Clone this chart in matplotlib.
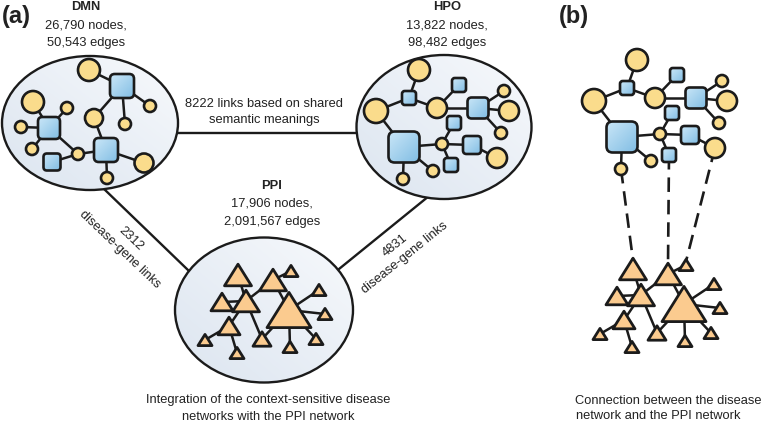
import matplotlib
matplotlib.use("Agg")
import matplotlib.pyplot as plt
import numpy as np
from matplotlib.patches import Ellipse, Circle, FancyBboxPatch, Polygon
from matplotlib.colors import LinearSegmentedColormap

plt.rcParams['font.family'] = ['Liberation Sans', 'DejaVu Sans']

# ---------------- data ----------------
# DMN disease network: kind (c=circle / s=square), x, y, size (radius or side)
DMN_KIND = ['c', 's', 'c', 'c', 'c', 'c', 'c', 's', 'c', 'c', 's', 'c', 's', 'c', 'c']
DMN_X = [89, 122, 150, 125, 94, 33, 67, 49, 21, 32, 52, 78, 106, 144, 107]
DMN_Y = [70, 86, 106, 124, 118, 102, 108, 128, 127, 149, 162, 154, 150, 163, 178]
DMN_SIZE = [11, 24, 6, 6, 9, 11, 6, 22, 6, 6, 17, 6, 24, 9.5, 6]
DMN_EDGES = [(0, 1), (1, 2), (1, 3), (1, 4), (4, 12), (7, 5), (7, 6), (7, 8), (7, 9),
             (7, 11), (10, 11), (11, 12), (12, 13), (12, 14)]

# HPO disease network (same template used in panel b)
HPO_KIND = ['c', 's', 'c', 'c', 's', 's', 'c', 'c', 'c', 's', 's', 'c', 's', 'c', 's', 'c', 'c']
HPO_X = [419, 409, 376, 437, 459, 478, 504, 509, 501, 454, 404, 442, 472, 497, 451, 433, 403]
HPO_Y = [70, 98, 111, 108, 85, 108, 91, 111, 133, 123, 147, 144, 145, 158, 165, 171, 179]
HPO_SIZE = [11, 14, 12, 10, 14, 21, 6, 10, 6, 14, 31, 6, 18, 10, 14, 6, 6]
HPO_EDGES = [(0, 1), (1, 2), (1, 3), (3, 4), (3, 5), (5, 6), (5, 7), (5, 8), (2, 10),
             (10, 11), (11, 9), (11, 12), (12, 13), (11, 14), (10, 15), (10, 16)]

# PPI network: triangles centre x, y, width
PPI_X = [238, 273, 291, 222, 246, 289, 319, 325, 229, 205, 237, 262, 290, 316]
PPI_Y = [275, 280, 271, 302, 301, 310, 290, 314, 326, 340, 353, 339, 347, 339]
PPI_W = [27, 27, 14, 22, 27, 44, 14, 14, 22, 14, 14, 18, 14, 14]
PPI_EDGES = [(0, 4), (4, 1), (1, 5), (1, 2), (3, 4), (4, 8), (4, 11), (8, 9), (8, 10),
             (5, 11), (5, 6), (5, 7), (5, 12), (5, 13)]

# panel (b): links disease node -> protein node
DASHED_LINKS = [(16, 0), (14, 1), (13, 2)]

# network summary labels
NET_NAMES = ['DMN', 'HPO', 'PPI']
NET_NODES = ['26,790 nodes,', '13,822 nodes,', '17,906 nodes,']
NET_EDGES = ['50,543 edges', '98,482 edges', '2,091,567 edges']
LINK_LABELS = ['8222 links based on shared\nsemantic meanings',
               '2312\ndisease-gene links', '4831\ndisease-gene links']
CAPTION_A = ['Integration of the context-sensitive disease', 'networks with the PPI network']
CAPTION_B = ['Connection between the disease', 'network and the PPI network']

# ---------------- layout / style ----------------
W, H = 765, 422
EDGE_C = '#1b1b1b'
CIRCLE_C = '#FADC8C'
TRI_C = '#FBCB8F'
SQ_C1, SQ_C2 = '#CBE7F8', '#82BEE4'
ELL_C1, ELL_C2 = '#F7F9FC', '#DCE5F0'
TEXT_C = '#222222'
FS = 9.3
LW_NODE = 1.9
LW_EDGE = 1.8

fig = plt.figure(figsize=(W / 100, H / 100), dpi=100)
ax = fig.add_axes([0, 0, 1, 1])
ax.set_xlim(0, W)
ax.set_ylim(H, 0)
ax.axis('off')


def grad_fill(patch, x0, x1, y0, y1, c1, c2, z, flip_x=False):
    cmap = LinearSegmentedColormap.from_list('g', [c1, c2])
    tx = np.linspace(0, 1, 40)
    if flip_x:
        tx = 1 - tx
    ty = np.linspace(0, 1, 40)
    g = (ty[:, None] + tx[None, :]) / 2
    im = ax.imshow(g, cmap=cmap, extent=[x0, x1, y1, y0], origin='upper',
                   interpolation='bilinear', zorder=z, aspect='auto', vmin=0, vmax=1)
    im.set_clip_path(patch)


def ellipse(cx, cy, w, h):
    e = Ellipse((cx, cy), w, h, facecolor='none', edgecolor=EDGE_C, lw=1.7, zorder=2)
    ax.add_patch(e)
    grad_fill(e, cx - w / 2, cx + w / 2, cy - h / 2, cy + h / 2, ELL_C1, ELL_C2, 1, flip_x=True)


def draw_disease(kind, xs, ys, sizes, edges, dx=0, dy=0):
    X = [x + dx for x in xs]
    Y = [y + dy for y in ys]
    for a, b in edges:
        ax.plot([X[a], X[b]], [Y[a], Y[b]], color=EDGE_C, lw=LW_EDGE, zorder=3,
                solid_capstyle='round')
    for k, x, y, s in zip(kind, X, Y, sizes):
        if k == 'c':
            ax.add_patch(Circle((x, y), s, facecolor=CIRCLE_C, edgecolor=EDGE_C,
                                lw=LW_NODE, zorder=5))
        else:
            p = FancyBboxPatch((x - s / 2, y - s / 2), s, s,
                               boxstyle=f"round,pad=0,rounding_size={s * 0.2:.2f}",
                               facecolor='none', edgecolor=EDGE_C, lw=LW_NODE, zorder=5)
            ax.add_patch(p)
            grad_fill(p, x - s / 2, x + s / 2, y - s / 2, y + s / 2, SQ_C1, SQ_C2, 4.9)
    return X, Y


def draw_ppi(xs, ys, ws, edges, dx=0, dy=0):
    X = [x + dx for x in xs]
    Y = [y + dy for y in ys]
    for a, b in edges:
        ax.plot([X[a], X[b]], [Y[a], Y[b]], color=EDGE_C, lw=LW_EDGE, zorder=3,
                solid_capstyle='round')
    apex = []
    for x, y, w in zip(X, Y, ws):
        h = w * 0.8
        pts = [(x, y - h / 2), (x + w / 2, y + h / 2), (x - w / 2, y + h / 2)]
        ax.add_patch(Polygon(pts, closed=True, facecolor=TRI_C, edgecolor=EDGE_C,
                             lw=2.0, joinstyle='round', zorder=5))
        apex.append((x, y - h / 2))
    return X, Y, apex


# links between the three networks (under ellipses)
ax.plot([176, 360], [133, 133], color=EDGE_C, lw=1.7, zorder=0.5)
ax.plot([103, 189], [188, 271], color=EDGE_C, lw=1.7, zorder=0.5)
ax.plot([429, 339], [196, 269], color=EDGE_C, lw=1.7, zorder=0.5)

# ellipses
ellipse(90, 123, 176, 134)
ellipse(444, 127, 175, 144)
ellipse(264, 310, 178, 145)

# networks panel (a)
draw_disease(DMN_KIND, DMN_X, DMN_Y, DMN_SIZE, DMN_EDGES)
draw_disease(HPO_KIND, HPO_X, HPO_Y, HPO_SIZE, HPO_EDGES)
draw_ppi(PPI_X, PPI_Y, PPI_W, PPI_EDGES)

# panel (b)
BX, BY = draw_disease(HPO_KIND, HPO_X, HPO_Y, HPO_SIZE, HPO_EDGES, dx=218, dy=-10)
PX, PY, PAPEX = draw_ppi(PPI_X, PPI_Y, PPI_W, PPI_EDGES, dx=395, dy=-6)
for dn, pn in DASHED_LINKS:
    ax.plot([BX[dn], PAPEX[pn][0]], [BY[dn], PAPEX[pn][1] + 2], color=EDGE_C, lw=1.9,
            dashes=(5.5, 3.0), zorder=2.5)

# ---------------- text ----------------
tkw = dict(color=TEXT_C, fontsize=FS, ha='center', va='center')
for name, nn, ne, (cx, y0) in zip(NET_NAMES, NET_NODES, NET_EDGES,
                                  [(86, 7), (447, 7), (272, 186)]):
    ax.text(cx, y0, name, fontweight='bold', **tkw)
    ax.text(cx, y0 + 18, nn, **tkw)
    ax.text(cx, y0 + 36, ne, **tkw)

ax.text(264, 112, LINK_LABELS[0], linespacing=1.45, **tkw)
ax.text(125, 244, LINK_LABELS[1], rotation=-43.6, rotation_mode='anchor',
        linespacing=1.4, color=TEXT_C, fontsize=FS, ha='center', va='center',
        multialignment='center')
ax.text(400, 251.5, LINK_LABELS[2], rotation=38.9, rotation_mode='anchor',
        linespacing=1.4, color=TEXT_C, fontsize=FS, ha='center', va='center',
        multialignment='center')

ax.text(268, 400, CAPTION_A[0], **tkw)
ax.text(268, 417, CAPTION_A[1], **tkw)
ax.text(575, 401, CAPTION_B[0], color=TEXT_C, fontsize=FS, ha='left', va='center')
ax.text(576, 416, CAPTION_B[1], color=TEXT_C, fontsize=FS, ha='left', va='center')

ax.text(16, 16, '(a)', fontsize=17, fontweight='bold', color=TEXT_C, ha='center', va='center')
ax.text(574, 17, '(b)', fontsize=17, fontweight='bold', color=TEXT_C, ha='center', va='center')

ax.set_xlim(0, W)
ax.set_ylim(H, 0)
fig.savefig('out.png', dpi=100)
